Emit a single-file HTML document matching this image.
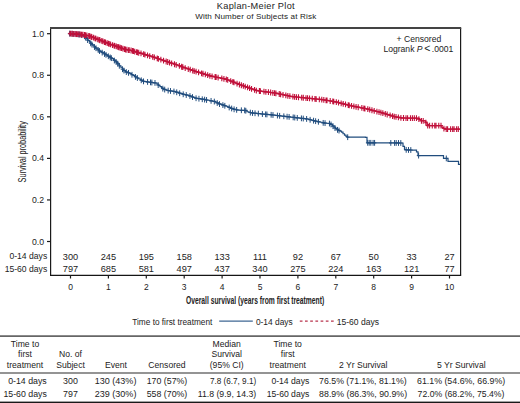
<!DOCTYPE html>
<html><head><meta charset="utf-8"><style>
html,body{margin:0;padding:0;background:#fff;}
svg{display:block;font-family:"Liberation Sans",sans-serif;}
</style></head><body>
<svg width="520" height="403" viewBox="0 0 520 403">
<rect width="520" height="403" fill="#fff"/>
<g fill="#222" font-size="9.2">
<text x="216.8" y="8.6" textLength="77.8" lengthAdjust="spacing">Kaplan-Meier Plot</text>
</g>
<g fill="#222" font-size="8.1">
<text x="195.2" y="19" textLength="121" lengthAdjust="spacing">With Number of Subjects at Risk</text>
</g>
<g fill="none" stroke="#1a1a1a" stroke-width="1.2">
<path d="M50.6,28V275.3M460.6,28V275.3"/>
</g>
<line x1="50" y1="28" x2="461.2" y2="28" stroke="#444" stroke-width="1.9"/>
<line x1="50" y1="275.3" x2="461.2" y2="275.3" stroke="#151515" stroke-width="1.35"/>
<g stroke="#1a1a1a" stroke-width="1.2"><line x1="70.50" y1="275" x2="70.50" y2="278.5" /><line x1="108.40" y1="275" x2="108.40" y2="278.5" /><line x1="146.30" y1="275" x2="146.30" y2="278.5" /><line x1="184.20" y1="275" x2="184.20" y2="278.5" /><line x1="222.10" y1="275" x2="222.10" y2="278.5" /><line x1="260.00" y1="275" x2="260.00" y2="278.5" /><line x1="297.90" y1="275" x2="297.90" y2="278.5" /><line x1="335.80" y1="275" x2="335.80" y2="278.5" /><line x1="373.70" y1="275" x2="373.70" y2="278.5" /><line x1="411.60" y1="275" x2="411.60" y2="278.5" /><line x1="449.50" y1="275" x2="449.50" y2="278.5" /><line x1="47" y1="241.50" x2="50.5" y2="241.50" /><line x1="47" y1="199.94" x2="50.5" y2="199.94" /><line x1="47" y1="158.38" x2="50.5" y2="158.38" /><line x1="47" y1="116.82" x2="50.5" y2="116.82" /><line x1="47" y1="75.26" x2="50.5" y2="75.26" /><line x1="47" y1="33.70" x2="50.5" y2="33.70" /></g>
<g fill="#222" font-size="8.7"><text x="44" y="244.50" text-anchor="end">0.0</text><text x="44" y="202.94" text-anchor="end">0.2</text><text x="44" y="161.38" text-anchor="end">0.4</text><text x="44" y="119.82" text-anchor="end">0.6</text><text x="44" y="78.26" text-anchor="end">0.8</text><text x="44" y="36.70" text-anchor="end">1.0</text></g>
<g fill="#222" font-size="8.5"><text x="70.50" y="289.8" text-anchor="middle">0</text><text x="108.40" y="289.8" text-anchor="middle">1</text><text x="146.30" y="289.8" text-anchor="middle">2</text><text x="184.20" y="289.8" text-anchor="middle">3</text><text x="222.10" y="289.8" text-anchor="middle">4</text><text x="260.00" y="289.8" text-anchor="middle">5</text><text x="297.90" y="289.8" text-anchor="middle">6</text><text x="335.80" y="289.8" text-anchor="middle">7</text><text x="373.70" y="289.8" text-anchor="middle">8</text><text x="411.60" y="289.8" text-anchor="middle">9</text><text x="449.50" y="289.8" text-anchor="middle">10</text></g>
<g fill="#222" font-size="9.2"><text x="70.50" y="259.6" text-anchor="middle">300</text><text x="70.50" y="272.3" text-anchor="middle">797</text><text x="108.40" y="259.6" text-anchor="middle">245</text><text x="108.40" y="272.3" text-anchor="middle">685</text><text x="146.30" y="259.6" text-anchor="middle">195</text><text x="146.30" y="272.3" text-anchor="middle">581</text><text x="184.20" y="259.6" text-anchor="middle">158</text><text x="184.20" y="272.3" text-anchor="middle">497</text><text x="222.10" y="259.6" text-anchor="middle">133</text><text x="222.10" y="272.3" text-anchor="middle">437</text><text x="260.00" y="259.6" text-anchor="middle">111</text><text x="260.00" y="272.3" text-anchor="middle">340</text><text x="297.90" y="259.6" text-anchor="middle">92</text><text x="297.90" y="272.3" text-anchor="middle">275</text><text x="335.80" y="259.6" text-anchor="middle">67</text><text x="335.80" y="272.3" text-anchor="middle">224</text><text x="373.70" y="259.6" text-anchor="middle">50</text><text x="373.70" y="272.3" text-anchor="middle">163</text><text x="411.60" y="259.6" text-anchor="middle">33</text><text x="411.60" y="272.3" text-anchor="middle">121</text><text x="449.50" y="259.6" text-anchor="middle">27</text><text x="449.50" y="272.3" text-anchor="middle">77</text>
<text x="47.2" y="259.3" text-anchor="end" font-size="8.6">0-14 days</text>
<text x="47.2" y="272.1" text-anchor="end" font-size="8.6">15-60 days</text>
</g>
<g fill="#222" font-size="8.6">
<text x="418.9" y="42" text-anchor="middle">+ Censored</text>
<text x="383.4" y="51.5">Logrank <tspan font-style="italic">P</tspan><tspan dx="1.6" font-size="10.5" dy="0.3">&lt;</tspan><tspan dx="1.5" dy="-0.3">.0001</tspan></text>
</g>
<text transform="translate(25.7,182.4) rotate(-90)" font-size="11" fill="#222" textLength="61.2" lengthAdjust="spacingAndGlyphs">Survival probability</text>
<text x="186" y="303.8" font-size="10.6" fill="#222" textLength="138.2" lengthAdjust="spacingAndGlyphs" font-weight="bold">Overall survival (years from first treatment)</text>

<g fill="none" stroke-width="1.2">
<path d="M68.50,33.50H70.00V33.64H71.50V33.79H73.00V33.93H74.50V34.07H76.00V34.22H77.50V34.36H79.00V34.50H80.50V34.78H82.00V35.34H83.50V35.89H85.00V36.80H86.50V38.69H88.00V40.57H89.50V42.12H91.00V43.65H92.50V45.18H94.00V46.66H95.50V47.85H97.00V49.04H98.50V50.23H100.00V51.33H101.50V52.21H103.00V53.09H104.50V53.97H106.00V54.86H107.50V55.77H109.00V56.67H110.50V57.58H112.00V58.65H113.50V59.86H115.00V61.07H116.50V62.28H118.00V64.05H119.50V66.02H121.00V67.77H122.50V69.21H124.00V70.64H125.50V71.78H127.00V72.31H128.50V72.85H130.00V73.59H131.50V74.51H133.00V75.43H134.50V76.35H136.00V77.25H137.50V78.12H139.00V78.98H140.50V79.85H142.00V80.72H143.50V81.37H145.00V81.58H146.50V81.79H148.00V82.01H149.50V82.22H151.00V82.42H152.50V82.61H154.00V82.80H155.50V82.99H157.00V84.14H158.50V85.36H160.00V86.61H161.50V87.86H163.00V88.74H164.50V89.47H166.00V90.20H167.50V90.50H169.00V90.73H170.50V90.97H172.00V91.20H173.50V91.43H175.00V91.73H176.50V92.22H178.00V92.70H179.50V93.19H181.00V93.68H182.50V94.12H184.00V94.49H185.50V94.85H187.00V95.22H188.50V95.58H190.00V96.05H191.50V96.66H193.00V97.28H194.50V97.89H196.00V98.26H197.50V98.49H199.00V98.72H200.50V98.96H202.00V99.19H203.50V99.43H205.00V99.68H206.50V99.98H208.00V100.27H209.50V100.57H211.00V100.87H212.50V101.16H214.00V101.46H215.50V102.15H217.00V102.90H218.50V103.65H220.00V104.21H221.50V104.68H223.00V105.15H224.50V105.67H226.00V106.25H227.50V106.83H229.00V107.42H230.50V108.01H232.00V108.61H233.50V109.20H235.00V109.51H236.50V109.83H238.00V110.14H239.50V110.23H241.00V110.28H242.50V110.32H244.00V110.36H245.50V110.40H247.00V111.73H248.50V112.12H250.00V112.51H251.50V112.90H253.00V113.06H254.50V113.21H256.00V113.37H257.50V113.53H259.00V113.68H260.50V113.84H262.00V114.00H263.50V114.14H265.00V114.27H266.50V114.41H268.00V114.54H269.50V114.67H271.00V114.80H272.50V114.98H274.00V115.15H275.50V115.33H277.00V115.50H278.50V115.68H280.00V115.85H281.50V116.03H283.00V116.20H284.50V116.37H286.00V116.55H287.50V116.72H289.00V116.89H290.50V117.07H292.00V117.24H293.50V117.42H295.00V117.60H296.50V117.78H298.00V117.96H299.50V118.14H301.00V118.31H302.50V118.47H304.00V118.63H305.50V118.79H307.00V119.02H308.50V119.39H310.00V119.77H311.50V120.14H313.00V120.51H314.50V120.88H316.00V121.25H317.50V121.59H319.00V121.93H320.50V122.26H322.00V122.60H323.50V122.93H325.00V123.12H326.50V123.26H328.00V123.41H329.50V123.55H331.00V124.47H332.50V125.77H334.00V127.14H335.50V128.54H337.00V129.60H338.50V130.35H340.00V131.10H341.50V132.22H343.00V133.77H344.50V135.19H346.00V136.45H347.50V137.20H349.00V137.19H350.50V137.18H352.00V137.17H353.50V137.16H355.00V137.16H356.50V137.15H358.00V137.14H359.50V137.13H361.00V137.12H362.50V137.12H364.00V137.11H365.50V137.46H367.00V142.80H368.50V142.81H370.00V142.82H371.50V142.83H373.00V142.83H374.50V142.84H376.00V142.85H377.50V142.86H379.00V142.87H380.50V142.88H382.00V142.89H383.50V142.90H385.00V142.90H386.50V142.91H388.00V142.92H389.50V142.93H391.00V142.94H392.50V142.95H394.00V142.96H395.50V142.97H397.00V142.97H398.50V142.98H400.00V142.99H401.50V143.00H403.00V146.29H404.50V149.58H406.00V149.85H407.50V149.90H409.00V149.95H410.50V150.01H412.00V150.06H413.50V150.11H415.00V150.16H416.50V151.89H418.00V155.60H419.50V155.60H421.00V155.60H422.50V155.60H424.00V155.60H425.50V155.60H427.00V155.60H428.50V155.60H430.00V155.60H431.50V155.60H433.00V155.60H434.50V155.60H436.00V155.60H437.50V155.60H439.00V155.60H440.50V155.60H442.00V155.60H443.50V158.40H445.00V158.40H446.50V158.40H448.00V161.40H449.50V161.40H451.00V161.40H452.50V161.40H454.00V161.40H455.50V161.40H457.00V161.40H458.50V164.40H460.00V164.40" stroke="#214d7e"/>
<path d="M69.63,30.71V36.51M67.83,33.61H71.43M72.06,30.94V36.74M70.26,33.84H73.86M73.82,31.11V36.91M72.02,34.01H75.62M76.15,31.33V37.13M74.35,34.23H77.95M78.18,31.53V37.33M76.38,34.43H79.98M79.39,31.64V37.44M77.59,34.54H81.19M81.32,32.19V37.99M79.52,35.09H83.12M84.47,33.35V39.15M82.67,36.25H86.27M85.66,34.74V40.54M83.86,37.64H87.46M87.63,37.21V43.01M85.83,40.11H89.43M90.69,40.44V46.24M88.89,43.34H92.49M91.96,41.73V47.53M90.16,44.63H93.76M94.47,44.13V49.93M92.67,47.03H96.27M95.97,45.32V51.12M94.17,48.22H97.77M98.19,47.09V52.89M96.39,49.99H99.99M99.51,48.13V53.93M97.71,51.03H101.31M102.19,49.72V55.52M100.39,52.62H103.99M104.52,51.08V56.88M102.72,53.98H106.32M106.03,51.98V57.78M104.23,54.88H107.83M108.34,53.37V59.17M106.54,56.27H110.14M110.24,54.52V60.32M108.44,57.42H112.04M111.39,55.25V61.05M109.59,58.15H113.19M114.36,57.65V63.45M112.56,60.55H116.16M116.13,59.08V64.88M114.33,61.98H117.93M117.72,60.78V66.58M115.92,63.68H119.52M119.34,62.91V68.71M117.54,65.81H121.14M122.51,66.32V72.12M120.71,69.22H124.31M123.96,67.71V73.51M122.16,70.61H125.76M126.31,69.17V74.97M124.51,72.07H128.11M128.53,69.96V75.76M126.73,72.86H130.33M131.97,71.90V77.70M130.17,74.80H133.77M135.44,74.02V79.82M133.64,76.92H137.24M137.35,75.13V80.93M135.55,78.03H139.15M141.24,77.38V83.18M139.44,80.28H143.04M143.52,78.47V84.27M141.72,81.37H145.32M147.59,79.05V84.85M145.79,81.95H149.39M150.50,79.46V85.26M148.70,82.36H152.30M151.87,79.63V85.43M150.07,82.53H153.67M154.99,80.02V85.82M153.19,82.92H156.79M158.19,82.20V88.00M156.39,85.10H159.99M162.81,85.74V91.54M161.01,88.64H164.61M164.71,86.67V92.47M162.91,89.57H166.51M168.15,87.70V93.50M166.35,90.60H169.95M170.49,88.06V93.86M168.69,90.96H172.29M173.95,88.60V94.40M172.15,91.50H175.75M176.73,89.39V95.19M174.93,92.29H178.53M179.68,90.35V96.15M177.88,93.25H181.48M183.21,91.39V97.19M181.41,94.29H185.01M186.24,92.13V97.93M184.44,95.03H188.04M189.95,93.13V98.93M188.15,96.03H191.75M192.51,94.18V99.98M190.71,97.08H194.31M196.06,95.37V101.17M194.26,98.27H197.86M198.94,95.82V101.62M197.14,98.72H200.74M202.25,96.33V102.13M200.45,99.23H204.05M204.61,96.70V102.50M202.81,99.60H206.41M206.56,97.09V102.89M204.76,99.99H208.36M211.07,97.98V103.78M209.27,100.88H212.87M214.32,98.66V104.46M212.52,101.56H216.12M217.22,100.11V105.91M215.42,103.01H219.02M219.54,101.17V106.97M217.74,104.07H221.34M222.88,102.21V108.01M221.08,105.11H224.68M224.84,102.90V108.70M223.04,105.80H226.64M229.19,104.59V110.39M227.39,107.49H230.99M231.67,105.58V111.38M229.87,108.48H233.47M234.09,106.42V112.22M232.29,109.32H235.89M236.65,106.96V112.76M234.85,109.86H238.45M241.36,107.38V113.18M239.56,110.28H243.16M244.68,107.48V113.28M242.88,110.38H246.48M245.79,107.85V113.65M243.99,110.75H247.59M250.33,109.70V115.50M248.53,112.60H252.13M252.54,110.11V115.91M250.74,113.01H254.34M255.02,110.37V116.17M253.22,113.27H256.82M258.35,110.71V116.51M256.55,113.61H260.15M262.39,111.14V116.94M260.59,114.04H264.19M265.64,111.43V117.23M263.84,114.33H267.44M266.91,111.54V117.34M265.11,114.44H268.71M271.15,111.92V117.72M269.35,114.82H272.95M272.97,112.13V117.93M271.17,115.03H274.77M277.43,112.65V118.45M275.63,115.55H279.23M279.64,112.91V118.71M277.84,115.81H281.44M283.84,113.40V119.20M282.04,116.30H285.64M287.08,113.77V119.57M285.28,116.67H288.88M289.10,114.00V119.80M287.30,116.90H290.90M293.18,114.48V120.28M291.38,117.38H294.98M294.75,114.67V120.47M292.95,117.57H296.55M297.28,114.98V120.78M295.48,117.88H299.08M301.42,115.45V121.25M299.62,118.35H303.22M303.25,115.65V121.45M301.45,118.55H305.05M306.63,116.03V121.83M304.83,118.93H308.43M310.11,116.89V122.69M308.31,119.79H311.91M313.57,117.75V123.55M311.77,120.65H315.37M315.63,118.26V124.06M313.83,121.16H317.43M318.42,118.90V124.70M316.62,121.80H320.22M323.20,119.97V125.77M321.40,122.87H325.00M325.06,120.22V126.02M323.26,123.12H326.86M329.46,120.65V126.45M327.66,123.55H331.26M331.00,121.57V127.37M329.20,124.47H332.80M333.00,123.30V129.10M331.20,126.20H334.80M335.00,125.17V130.97M333.20,128.07H336.80M337.50,126.95V132.75M335.70,129.85H339.30M339.00,127.70V133.50M337.20,130.60H340.80M347.70,134.30V140.10M345.90,137.20H349.50M367.70,139.90V145.70M365.90,142.80H369.50M369.20,139.91V145.71M367.40,142.81H371.00M370.80,139.92V145.72M369.00,142.82H372.60M373.10,139.94V145.74M371.30,142.84H374.90M374.60,139.94V145.74M372.80,142.84H376.40M390.80,140.04V145.84M389.00,142.94H392.60M394.60,140.06V145.86M392.80,142.96H396.40M396.20,140.07V145.87M394.40,142.97H398.00M398.50,140.08V145.88M396.70,142.98H400.30M400.80,140.10V145.90M399.00,143.00H402.60M406.20,146.96V152.76M404.40,149.86H408.00M408.50,147.04V152.84M406.70,149.94H410.30M410.80,147.12V152.92M409.00,150.02H412.60M418.60,152.70V158.50M416.80,155.60H420.40M446.30,155.50V161.30M444.50,158.40H448.10" stroke="#214d7e" stroke-width="1"/>
<path d="M68.50,33.50H70.00V33.60H71.50V33.71H73.00V33.81H74.50V33.92H76.00V34.02H77.50V34.13H79.00V34.23H80.50V34.38H82.00V34.60H83.50V34.83H85.00V35.07H86.50V35.33H88.00V35.58H89.50V36.14H91.00V36.72H92.50V37.30H94.00V37.88H95.50V38.47H97.00V39.07H98.50V39.66H100.00V40.26H101.50V40.85H103.00V41.45H104.50V42.04H106.00V42.64H107.50V43.23H109.00V43.83H110.50V44.42H112.00V44.97H113.50V45.47H115.00V45.97H116.50V46.47H118.00V46.98H119.50V47.50H121.00V48.02H122.50V48.54H124.00V49.05H125.50V49.49H127.00V49.77H128.50V50.05H130.00V50.32H131.50V50.60H133.00V51.04H134.50V51.49H136.00V51.93H137.50V52.37H139.00V52.82H140.50V53.26H142.00V53.70H143.50V54.15H145.00V54.60H146.50V55.06H148.00V55.51H149.50V55.96H151.00V56.41H152.50V56.87H154.00V57.32H155.50V57.81H157.00V58.33H158.50V58.84H160.00V59.36H161.50V59.88H163.00V60.40H164.50V60.91H166.00V61.43H167.50V61.93H169.00V62.43H170.50V62.92H172.00V63.42H173.50V63.91H175.00V64.41H176.50V64.90H178.00V65.41H179.50V65.97H181.00V66.52H182.50V67.08H184.00V67.63H185.50V68.17H187.00V68.66H188.50V69.16H190.00V69.65H191.50V70.14H193.00V70.64H194.50V71.13H196.00V71.61H197.50V72.06H199.00V72.52H200.50V72.98H202.00V73.44H203.50V73.89H205.00V74.35H206.50V74.81H208.00V75.27H209.50V75.73H211.00V76.12H212.50V76.44H214.00V76.75H215.50V77.06H217.00V77.37H218.50V77.68H220.00V77.99H221.50V78.31H223.00V78.62H224.50V78.93H226.00V79.28H227.50V79.86H229.00V80.45H230.50V81.03H232.00V81.62H233.50V82.20H235.00V82.78H236.50V83.37H238.00V83.95H239.50V84.54H241.00V85.12H242.50V85.66H244.00V86.19H245.50V86.72H247.00V87.25H248.50V87.78H250.00V88.31H251.50V88.84H253.00V89.36H254.50V89.89H256.00V90.42H257.50V90.74H259.00V90.94H260.50V91.14H262.00V91.34H263.50V91.55H265.00V91.75H266.50V91.95H268.00V92.15H269.50V92.36H271.00V92.56H272.50V92.76H274.00V92.96H275.50V93.20H277.00V93.52H278.50V93.83H280.00V94.15H281.50V94.46H283.00V94.78H284.50V95.09H286.00V95.41H287.50V95.72H289.00V96.04H290.50V96.35H292.00V96.58H293.50V96.74H295.00V96.90H296.50V97.05H298.00V97.21H299.50V97.37H301.00V97.52H302.50V97.68H304.00V97.84H305.50V98.00H307.00V98.15H308.50V98.29H310.00V98.44H311.50V98.59H313.00V98.73H314.50V98.88H316.00V99.03H317.50V99.17H319.00V99.32H320.50V99.46H322.00V99.62H323.50V99.87H325.00V100.13H326.50V100.38H328.00V100.64H329.50V100.89H331.00V101.15H332.50V101.41H334.00V101.66H335.50V101.93H337.00V102.31H338.50V102.69H340.00V103.06H341.50V103.44H343.00V103.82H344.50V104.20H346.00V104.58H347.50V104.96H349.00V105.34H350.50V105.72H352.00V106.03H353.50V106.33H355.00V106.62H356.50V106.91H358.00V107.20H359.50V107.49H361.00V107.79H362.50V108.08H364.00V108.37H365.50V108.66H367.00V109.00H368.50V109.39H370.00V109.77H371.50V110.15H373.00V110.53H374.50V110.92H376.00V111.30H377.50V111.68H379.00V112.06H380.50V112.45H382.00V112.86H383.50V113.34H385.00V113.82H386.50V114.29H388.00V114.74H389.50V115.20H391.00V115.65H392.50V116.11H394.00V116.54H395.50V116.83H397.00V117.12H398.50V117.42H400.00V117.71H401.50V118.00H403.00V118.02H404.50V118.04H406.00V118.06H407.50V118.07H409.00V118.09H410.50V118.11H412.00V118.13H413.50V118.15H415.00V118.17H416.50V118.19H418.00V118.51H419.50V119.65H421.00V120.80H422.50V120.80H424.00V120.80H425.50V122.24H427.00V124.68H428.50V125.60H430.00V125.60H431.50V125.60H433.00V125.60H434.50V125.60H436.00V125.60H437.50V125.60H439.00V125.60H440.50V125.60H442.00V127.60H443.50V128.35H445.00V129.10H446.50V129.10H448.00V129.10H449.50V129.10H451.00V129.10H452.50V129.10H454.00V129.10H455.50V129.10H457.00V129.10H458.50V129.10H460.00V129.10" stroke="#c8143a" stroke-width="1.3"/>
<path d="M70.04,30.71V36.51M68.24,33.61H71.84M70.89,30.77V36.57M69.09,33.67H72.69M72.30,30.86V36.66M70.50,33.76H74.10M73.69,30.96V36.76M71.89,33.86H75.49M75.13,31.06V36.86M73.33,33.96H76.93M76.42,31.15V36.95M74.62,34.05H78.22M77.72,31.24V37.04M75.92,34.14H79.52M79.11,31.34V37.14M77.31,34.24H80.91M80.74,31.51V37.31M78.94,34.41H82.54M81.67,31.65V37.45M79.87,34.55H83.47M82.94,31.85V37.65M81.14,34.75H84.74M84.54,32.09V37.89M82.74,34.99H86.34M85.42,32.24V38.04M83.62,35.14H87.22M86.81,32.48V38.28M85.01,35.38H88.61M88.78,32.96V38.76M86.98,35.86H90.58M89.69,33.31V39.11M87.89,36.21H91.49M91.05,33.84V39.64M89.25,36.74H92.85M91.88,34.16V39.96M90.08,37.06H93.68M93.59,34.82V40.62M91.79,37.72H95.39M95.07,35.41V41.21M93.27,38.31H96.87M95.89,35.73V41.53M94.09,38.63H97.69M97.77,36.48V42.28M95.97,39.38H99.57M99.12,37.01V42.81M97.32,39.91H100.92M99.92,37.33V43.13M98.12,40.23H101.72M101.79,38.07V43.87M99.99,40.97H103.59M102.97,38.54V44.34M101.17,41.44H104.77M104.50,39.14V44.94M102.70,42.04H106.30M105.53,39.55V45.35M103.73,42.45H107.33M107.19,40.21V46.01M105.39,43.11H108.99M108.56,40.75V46.55M106.76,43.65H110.36M109.22,41.02V46.82M107.42,43.92H111.02M110.59,41.56V47.36M108.79,44.46H112.39M112.50,42.23V48.03M110.70,45.13H114.30M114.10,42.77V48.57M112.30,45.67H115.90M114.77,42.99V48.79M112.97,45.89H116.57M116.29,43.50V49.30M114.49,46.40H118.09M117.75,43.99V49.79M115.95,46.89H119.55M118.83,44.37V50.17M117.03,47.27H120.63M120.21,44.84V50.64M118.41,47.74H122.01M121.49,45.29V51.09M119.69,48.19H123.29M122.88,45.77V51.57M121.08,48.67H124.68M124.42,46.30V52.10M122.62,49.20H126.22M125.48,46.59V52.39M123.68,49.49H127.28M126.89,46.85V52.65M125.09,49.75H128.69M128.59,47.16V52.96M126.79,50.06H130.39M129.23,47.28V53.08M127.43,50.18H131.03M131.06,47.62V53.42M129.26,50.52H132.86M132.55,48.01V53.81M130.75,50.91H134.35M133.49,48.29V54.09M131.69,51.19H135.29M134.74,48.66V54.46M132.94,51.56H136.54M136.62,49.21V55.01M134.82,52.11H138.42M137.42,49.45V55.25M135.62,52.35H139.22M138.71,49.83V55.63M136.91,52.73H140.51M141.01,50.51V56.31M139.21,53.41H142.81M143.64,51.29V57.09M141.84,54.19H145.44M144.94,51.68V57.48M143.14,54.58H146.74M147.50,52.46V58.26M145.70,55.36H149.30M149.74,53.13V58.93M147.94,56.03H151.54M152.74,54.04V59.84M150.94,56.94H154.54M154.35,54.52V60.32M152.55,57.42H156.15M157.22,55.50V61.30M155.42,58.40H159.02M158.37,55.90V61.70M156.57,58.80H160.17M160.86,56.76V62.56M159.06,59.66H162.66M163.57,57.69V63.49M161.77,60.59H165.37M166.15,58.58V64.38M164.35,61.48H167.95M167.70,59.10V64.90M165.90,62.00H169.50M169.57,59.71V65.51M167.77,62.61H171.37M171.63,60.40V66.20M169.83,63.30H173.43M174.49,61.34V67.14M172.69,64.24H176.29M176.19,61.90V67.70M174.39,64.80H177.99M179.37,63.02V68.82M177.57,65.92H181.17M181.64,63.86V69.66M179.84,66.76H183.44M182.84,64.30V70.10M181.04,67.20H184.64M185.21,65.17V70.97M183.41,68.07H187.01M188.26,66.17V71.97M186.46,69.07H190.06M190.22,66.82V72.62M188.42,69.72H192.02M192.70,67.64V73.44M190.90,70.54H194.50M194.20,68.14V73.94M192.40,71.04H196.00M196.09,68.73V74.53M194.29,71.63H197.89M198.57,69.49V75.29M196.77,72.39H200.37M201.57,70.40V76.20M199.77,73.30H203.37M202.98,70.83V76.63M201.18,73.73H204.78M205.32,71.55V77.35M203.52,74.45H207.12M207.65,72.26V78.06M205.85,75.16H209.45M209.88,72.94V78.74M208.08,75.84H211.68M212.08,73.45V79.25M210.28,76.35H213.88M215.10,74.08V79.88M213.30,76.98H216.90M216.13,74.29V80.09M214.33,77.19H217.93M218.12,74.70V80.50M216.32,77.60H219.92M221.80,75.47V81.27M220.00,78.37H223.60M223.92,75.91V81.71M222.12,78.81H225.72M226.31,76.50V82.30M224.51,79.40H228.11M227.68,77.03V82.83M225.88,79.93H229.48M230.70,78.21V84.01M228.90,81.11H232.50M232.89,79.06V84.86M231.09,81.96H234.69M234.01,79.50V85.30M232.21,82.40H235.81M237.05,80.68V86.48M235.25,83.58H238.85M239.41,81.60V87.40M237.61,84.50H241.21M241.36,82.36V88.16M239.56,85.26H243.16M243.36,83.06V88.86M241.56,85.96H245.16M245.23,83.72V89.52M243.43,86.62H247.03M247.53,84.53V90.33M245.73,87.43H249.33M249.58,85.26V91.06M247.78,88.16H251.38M251.55,85.95V91.75M249.75,88.85H253.35M254.58,87.02V92.82M252.78,89.92H256.38M256.34,87.64V93.44M254.54,90.54H258.14M259.37,88.09V93.89M257.57,90.99H261.17M260.40,88.23V94.03M258.60,91.13H262.20M263.96,88.71V94.51M262.16,91.61H265.76M265.86,88.96V94.76M264.06,91.86H267.66M268.44,89.31V95.11M266.64,92.21H270.24M270.62,89.61V95.41M268.82,92.51H272.42M272.84,89.91V95.71M271.04,92.81H274.64M274.56,90.14V95.94M272.76,93.04H276.36M275.91,90.39V96.19M274.11,93.29H277.71M279.27,91.10V96.90M277.47,94.00H281.07M280.60,91.38V97.18M278.80,94.28H282.40M283.02,91.88V97.68M281.22,94.78H284.82M285.81,92.47V98.27M284.01,95.37H287.61M287.82,92.89V98.69M286.02,95.79H289.62M289.87,93.32V99.12M288.07,96.22H291.67M292.91,93.78V99.58M291.11,96.68H294.71M294.62,93.96V99.76M292.82,96.86H296.42M296.42,94.15V99.95M294.62,97.05H298.22M298.50,94.36V100.16M296.70,97.26H300.30M301.67,94.70V100.50M299.87,97.60H303.47M303.30,94.87V100.67M301.50,97.77H305.10M305.99,95.15V100.95M304.19,98.05H307.79M307.55,95.30V101.10M305.75,98.20H309.35M309.53,95.50V101.30M307.73,98.40H311.33M312.28,95.76V101.56M310.48,98.66H314.08M314.94,96.02V101.82M313.14,98.92H316.74M316.16,96.14V101.94M314.36,99.04H317.96M319.34,96.45V102.25M317.54,99.35H321.14M321.77,96.69V102.49M319.97,99.59H323.57M323.81,97.03V102.83M322.01,99.93H325.61M326.06,97.41V103.21M324.26,100.31H327.86M327.01,97.57V103.37M325.21,100.47H328.81M330.20,98.11V103.91M328.40,101.01H332.00M332.79,98.55V104.35M330.99,101.45H334.59M333.74,98.72V104.52M331.94,101.62H335.54M336.31,99.23V105.03M334.51,102.13H338.11M338.53,99.79V105.59M336.73,102.69H340.33M341.15,100.46V106.26M339.35,103.36H342.95M343.21,100.98V106.78M341.41,103.88H345.01M345.51,101.56V107.36M343.71,104.46H347.31M348.21,102.24V108.04M346.41,105.14H350.01M349.23,102.50V108.30M347.43,105.40H351.03M351.53,103.04V108.84M349.73,105.94H353.33M353.86,103.50V109.30M352.06,106.40H355.66M356.08,103.93V109.73M354.28,106.83H357.88M358.22,104.34V110.14M356.42,107.24H360.02M361.85,105.05V110.85M360.05,107.95H363.65M363.88,105.45V111.25M362.08,108.35H365.68M364.91,105.65V111.45M363.11,108.55H366.71M367.78,106.30V112.10M365.98,109.20H369.58M369.71,106.80V112.60M367.91,109.70H371.51M371.93,107.36V113.16M370.13,110.26H373.73M374.21,107.94V113.74M372.41,110.84H376.01M376.90,108.63V114.43M375.10,111.53H378.70M379.02,109.17V114.97M377.22,112.07H380.82M380.89,109.65V115.45M379.09,112.55H382.69M382.85,110.23V116.03M381.05,113.13H384.65M385.29,111.01V116.81M383.49,113.91H387.09M387.19,111.60V117.40M385.39,114.50H388.99M390.09,112.48V118.28M388.29,115.38H391.89M392.56,113.22V119.02M390.76,116.12H394.36M394.26,113.69V119.49M392.46,116.59H396.06M396.01,114.03V119.83M394.21,116.93H397.81M398.39,114.49V120.29M396.59,117.39H400.19M400.91,114.99V120.79M399.11,117.89H402.71M403.50,115.12V120.92M401.70,118.02H405.30M406.00,115.16V120.96M404.20,118.06H407.80M407.59,115.18V120.98M405.79,118.08H409.39M410.47,115.21V121.01M408.67,118.11H412.27M412.41,115.24V121.04M410.61,118.14H414.21M414.34,115.26V121.06M412.54,118.16H416.14M416.47,115.29V121.09M414.67,118.19H418.27M418.88,116.28V122.08M417.08,119.18H420.68M421.43,117.90V123.70M419.63,120.80H423.23M423.21,117.90V123.70M421.41,120.80H425.01M425.86,119.86V125.66M424.06,122.76H427.66M427.72,122.70V128.50M425.92,125.60H429.52M429.60,122.70V128.50M427.80,125.60H431.40M432.28,122.70V128.50M430.48,125.60H434.08M434.75,122.70V128.50M432.95,125.60H436.55M436.00,122.70V128.50M434.20,125.60H437.80M438.77,122.70V128.50M436.97,125.60H440.57M441.00,122.70V128.50M439.20,125.60H442.80M443.92,125.66V131.46M442.12,128.56H445.72M446.23,126.20V132.00M444.43,129.10H448.03M447.58,126.20V132.00M445.78,129.10H449.38M450.62,126.20V132.00M448.82,129.10H452.42M452.67,126.20V132.00M450.87,129.10H454.47M454.07,126.20V132.00M452.27,129.10H455.87M456.61,126.20V132.00M454.81,129.10H458.41M458.30,126.20V132.00M456.50,129.10H460.10" stroke="#c0103a" stroke-width="1.1"/>
</g>

<!-- legend -->
<g fill="#222" font-size="8.5">
<text x="132.3" y="324.5" textLength="80" lengthAdjust="spacingAndGlyphs">Time to first treatment</text>
<text x="255.9" y="324.5" textLength="36.8" lengthAdjust="spacingAndGlyphs">0-14 days</text>
<text x="336.7" y="324.5" textLength="42.4" lengthAdjust="spacingAndGlyphs">15-60 days</text>
</g>
<line x1="219.2" y1="321.1" x2="252.8" y2="321.1" stroke="#3f6793" stroke-width="1.2"/>
<line x1="299.8" y1="321.1" x2="334" y2="321.1" stroke="#b8334c" stroke-width="1.2" stroke-dasharray="2.7,2.5"/>

<!-- table -->
<line x1="0" y1="336.1" x2="520" y2="336.1" stroke="#666" stroke-width="1.8"/>
<line x1="0" y1="373" x2="520" y2="373" stroke="#2a2a2a" stroke-width="1.2"/>
<rect x="0" y="401.6" width="520" height="1.4" fill="#1a1a1a"/>
<g fill="#222" font-size="8.6" text-anchor="middle">
<text x="25" y="346.6">Time to</text>
<text x="25" y="357.3">first</text>
<text x="25" y="367.9">treatment</text>
<text x="70.5" y="357.3">No. of</text>
<text x="70.5" y="367.9">Subject</text>
<text x="116" y="367.9">Event</text>
<text x="167" y="367.9">Censored</text>
<text x="226.7" y="346.6">Median</text>
<text x="226.7" y="357.3">Survival</text>
<text x="226.7" y="367.9">(95% CI)</text>
<text x="287.7" y="346.6">Time to</text>
<text x="287.7" y="357.3">first</text>
<text x="287.7" y="367.9">treatment</text>
<text x="363.2" y="367.9">2 Yr Survival</text>
<text x="461.3" y="367.9">5 Yr Survival</text>
<text x="70.5" y="383.8" font-size="8.85">300</text>
<text x="70.5" y="397" font-size="8.85">797</text>
</g>
<g fill="#222" font-size="8.85">
<text x="8.2" y="383.8" textLength="38.5" lengthAdjust="spacingAndGlyphs">0-14 days</text>
<text x="3.4" y="397" textLength="43.4" lengthAdjust="spacingAndGlyphs">15-60 days</text>
<text x="94.8" y="383.8" textLength="41.6" lengthAdjust="spacingAndGlyphs">130 (43%)</text>
<text x="94.8" y="397" textLength="41.6" lengthAdjust="spacingAndGlyphs">239 (30%)</text>
<text x="146.7" y="383.8" textLength="40.6" lengthAdjust="spacingAndGlyphs">170 (57%)</text>
<text x="146.7" y="397" textLength="40.6" lengthAdjust="spacingAndGlyphs">558 (70%)</text>
<text x="209.9" y="383.8" textLength="46.3" lengthAdjust="spacingAndGlyphs">7.8 (6.7, 9.1)</text>
<text x="197.7" y="397" textLength="58.5" lengthAdjust="spacingAndGlyphs">11.8 (9.9, 14.3)</text>
<text x="271.4" y="383.8" textLength="37.9" lengthAdjust="spacingAndGlyphs">0-14 days</text>
<text x="266.7" y="397" textLength="42.6" lengthAdjust="spacingAndGlyphs">15-60 days</text>
<text x="319.1" y="383.8" textLength="87.6" lengthAdjust="spacingAndGlyphs">76.5% (71.1%, 81.1%)</text>
<text x="319.1" y="397" textLength="88.0" lengthAdjust="spacingAndGlyphs">88.9% (86.3%, 90.9%)</text>
<text x="417.0" y="383.8" textLength="88.2" lengthAdjust="spacingAndGlyphs">61.1% (54.6%, 66.9%)</text>
<text x="417.6" y="397" textLength="86.9" lengthAdjust="spacingAndGlyphs">72.0% (68.2%, 75.4%)</text>
</g>
</svg>
</body></html>
